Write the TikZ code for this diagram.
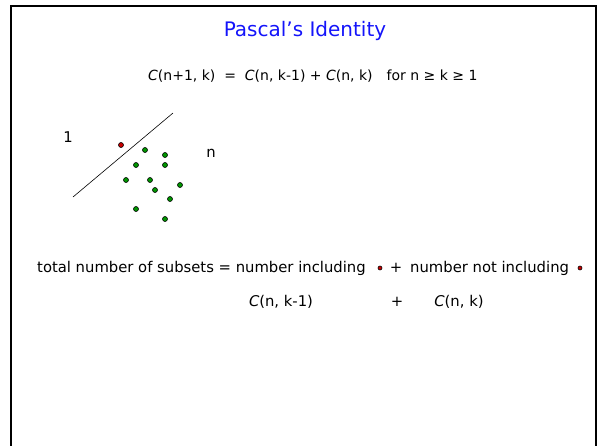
\documentclass[tikz,border=0pt]{standalone}
\usepackage{fontspec}
\setmainfont{DejaVu Sans}
\definecolor{titleblue}{RGB}{20,20,250}
\definecolor{dotred}{RGB}{200,0,0}
\definecolor{dotgreen}{RGB}{0,150,0}
\tikzset{
  txt/.style={inner sep=0pt, font=\fontsize{14.8}{17}\selectfont},
  gdot/.style={circle, draw=black, fill=dotgreen, line width=0.6pt, minimum size=5pt, inner sep=0pt},
  rdot/.style={circle, draw=black, fill=dotred, line width=0.6pt, minimum size=5pt, inner sep=0pt}
}
\begin{document}
\begin{tikzpicture}[x=1pt, y=-1pt]
\useasboundingbox (0,0) rectangle (600,445);
% Frame
\draw[line width=2.5pt] (11,446) -- (11,6) -- (596,6) -- (596,446);

% Title and identity
\node[txt, font=\fontsize{20}{24}\selectfont, text=titleblue] (title) at (305,31) {Pascal's Identity};
\node[txt, font=\fontsize{14}{17}\selectfont, anchor=west] (ident) at (148,76) {\textit{C}(n+1, k)\ \ =\ \ \textit{C}(n, k-1) + \textit{C}(n, k)\quad for n ≥ k ≥ 1};

% Split line and labels
\coordinate (splitA) at (73,197);
\coordinate (splitB) at (173,113);
\draw[line width=0.6pt] (splitA) -- (splitB);
\node[txt] (one) at (68,137) {1};
\node[txt] (nlab) at (211,153) {n};

% Dots
\node[rdot] (r1) at (121,145) {};
\node[gdot] (g1) at (145,150) {};
\node[gdot] (g2) at (165,155) {};
\node[gdot] (g3) at (165,165) {};
\node[gdot] (g4) at (136,165) {};
\node[gdot] (g5) at (126,180) {};
\node[gdot] (g6) at (150,180) {};
\node[gdot] (g7) at (155,190) {};
\node[gdot] (g8) at (180,185) {};
\node[gdot] (g9) at (170,199) {};
\node[gdot] (g10) at (136,209) {};
\node[gdot] (g11) at (165,219) {};

% Counting subsets
\node[txt, anchor=west] (total) at (37,268) {total number of subsets = number including};
\node[rdot, minimum size=4pt] (r2) at (380,268) {};
\node[txt] (plusA) at (396,268) {+};
\node[txt, anchor=west] (notinc) at (410,268) {number not including};
\node[rdot, minimum size=4pt] (r3) at (580,268) {};

\node[txt] (cleft) at (281,302) {\textit{C}(n, k-1)};
\node[txt] (plusB) at (397,302) {+};
\node[txt] (cright) at (459,302) {\textit{C}(n, k)};
\end{tikzpicture}
\end{document}
